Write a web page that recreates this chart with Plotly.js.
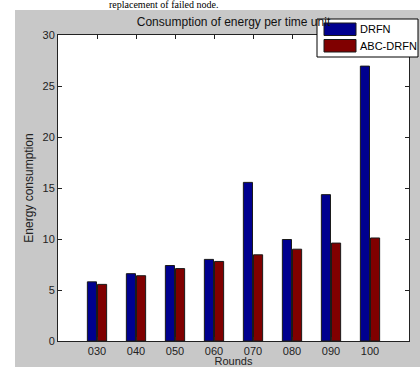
<!DOCTYPE html>
<html>
<head>
<meta charset="utf-8">
<script src="https://cdn.plot.ly/plotly-3.0.1.min.js"></script>
<style>
html,body{margin:0;padding:0;background:#ffffff;overflow:hidden;}
#chart{width:420px;height:367px;}
</style>
</head>
<body>
<div id="chart"></div>
<script>
var rounds = ["030", "040", "050", "060", "070", "080", "090", "100"];
var drfn = [5.8, 6.6, 7.4, 8.0, 15.55, 9.95, 14.35, 26.95];
var abcDrfn = [5.55, 6.4, 7.1, 7.8, 8.45, 9.0, 9.6, 10.1];
var seriesNames = ["DRFN", "ABC-DRFN"];
var seriesColors = ["#00008f", "#800000"];
var yTicks = [0, 5, 10, 15, 20, 25, 30];

var W = 420, H = 367;
var L = 58, R = 11, T = 35, B = 26;
var pw = W - L - R, ph = H - T - B;
function px(x){ return (x - L) / pw; }
function py(y){ return (H - B - y) / ph; }

var font = "Liberation Sans, Arial, sans-serif";

var traces = seriesNames.map(function(name, i){
  return {type: "bar", name: name, x: rounds, y: i === 0 ? drfn : abcDrfn,
    showlegend: false,
    marker: {color: seriesColors[i], line: {color: "#1a1a1a", width: 1}}};
});

var legendRows = [[23, 35.5], [39.5, 52]];
var shapes = [
  // MATLAB figure (grey) area
  {type: "rect", xref: "paper", yref: "paper", x0: px(15), x1: px(440), y0: py(400), y1: py(10),
   fillcolor: "#c8c8c8", line: {width: 0}, layer: "below"},
  // axes background
  {type: "rect", xref: "paper", yref: "paper", x0: 0, x1: 1, y0: 0, y1: 1,
   fillcolor: "#ffffff", line: {width: 0}, layer: "below"},
  // legend box
  {type: "rect", xref: "paper", yref: "paper", x0: px(317), x1: px(418), y0: py(57), y1: py(19),
   fillcolor: "#ffffff", line: {color: "#000000", width: 1}, layer: "above"}
];
var annotations = [
  {text: "replacement of failed node.", xref: "paper", yref: "paper",
   x: px(163), y: py(5), xanchor: "center", yanchor: "middle", showarrow: false,
   font: {family: "Liberation Serif, Times New Roman, serif", size: 10, color: "#000"}}
];
seriesNames.forEach(function(name, i){
  var r = legendRows[i];
  shapes.push({type: "rect", xref: "paper", yref: "paper",
    x0: px(324), x1: px(356), y0: py(r[1]), y1: py(r[0]),
    fillcolor: seriesColors[i], line: {color: "#1a1a1a", width: 1}, layer: "above"});
  annotations.push({text: name, xref: "paper", yref: "paper",
    x: px(358), y: py((r[0] + r[1]) / 2), xanchor: "left", yanchor: "middle",
    showarrow: false, font: {family: font, size: 11, color: "#000"}});
});

var layout = {
  width: W, height: H,
  margin: {l: L, r: R, t: T, b: B, pad: 0},
  paper_bgcolor: "#ffffff",
  plot_bgcolor: "#ffffff",
  barmode: "group",
  bargap: 0.48,
  bargroupgap: 0.1,
  showlegend: false,
  title: {
    text: "Consumption of energy per time unit",
    font: {family: font, size: 12, color: "#111"},
    xref: "paper", x: 0.5, xanchor: "center",
    y: 1 - 22 / H, yanchor: "middle"
  },
  xaxis: {
    type: "category",
    range: [-1, rounds.length],
    tickvals: rounds, ticktext: rounds,
    ticks: "inside", ticklen: 4, tickcolor: "#222",
    showline: true, linecolor: "#222", linewidth: 1, mirror: "ticks",
    showgrid: false, zeroline: false,
    tickfont: {family: font, size: 11, color: "#222"},
    title: {text: "Rounds", font: {family: font, size: 11, color: "#222"}, standoff: 4},
    fixedrange: true
  },
  yaxis: {
    range: [0, 30],
    tickvals: yTicks,
    ticks: "inside", ticklen: 4, tickcolor: "#222",
    showline: true, linecolor: "#222", linewidth: 1, mirror: "ticks",
    showgrid: false, zeroline: false,
    tickfont: {family: font, size: 11, color: "#222"},
    title: {text: "Energy consumption", font: {family: font, size: 12, color: "#222"}, standoff: 6},
    fixedrange: true
  },
  shapes: shapes,
  annotations: annotations
};

Plotly.newPlot("chart", traces, layout, {displayModeBar: false, staticPlot: true});
</script>
</body>
</html>
